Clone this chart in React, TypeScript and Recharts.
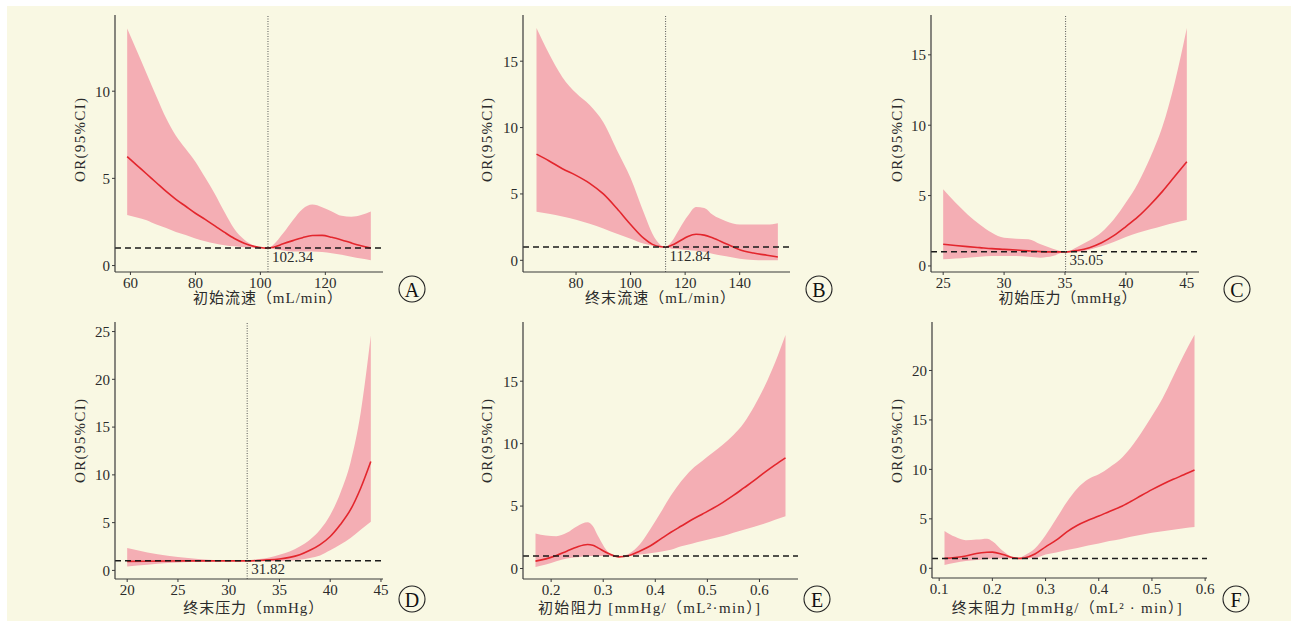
import React from 'react';
import { ComposedChart, Area, Line, XAxis, YAxis, ReferenceLine, ReferenceDot } from 'recharts';

// ---------- Panel A: 初始流速 ----------
const aX = [59, 62, 65, 68, 71, 74, 77, 80, 83, 86, 89, 92, 95, 98, 101, 102.34, 104, 107, 110, 113, 116, 119, 122, 125, 128, 131, 134];
const aHigh = [13.6, 12.3, 11.0, 9.7, 8.45, 7.45, 6.7, 5.95, 5.05, 4.1, 3.05, 2.1, 1.5, 1.15, 1.02, 1.0, 1.2, 1.85, 2.6, 3.25, 3.5, 3.35, 3.1, 2.85, 2.8, 2.9, 3.1];
const aLow = [2.9, 2.75, 2.6, 2.35, 2.15, 1.92, 1.75, 1.55, 1.4, 1.27, 1.17, 1.1, 1.05, 1.02, 1.0, 1.0, 0.95, 0.86, 0.8, 0.8, 0.8, 0.77, 0.7, 0.62, 0.5, 0.4, 0.3];
const aOR = [6.25, 5.75, 5.25, 4.75, 4.25, 3.8, 3.4, 3.0, 2.65, 2.28, 1.9, 1.55, 1.28, 1.1, 1.01, 1.0, 1.05, 1.25, 1.43, 1.6, 1.72, 1.73, 1.62, 1.47, 1.3, 1.14, 1.0];
const aXTicks = [60, 80, 100, 120];
const aYTicks = [0, 5, 10];

// ---------- Panel B: 终末流速 ----------
const bX = [65.5, 70, 75, 80, 85, 90, 95, 100, 105, 108, 111, 112.84, 115, 118, 121, 124, 127, 130, 135, 140, 145, 150, 154];
const bHigh = [17.5, 15.6, 13.8, 12.6, 11.7, 10.4, 8.3, 6.2, 3.5, 2.0, 1.15, 1.0, 1.4, 2.4, 3.35, 4.02, 3.95, 3.45, 2.95, 2.7, 2.7, 2.7, 2.8];
const bLow = [3.65, 3.5, 3.3, 3.05, 2.75, 2.4, 2.0, 1.63, 1.25, 1.1, 1.0, 1.0, 0.88, 0.84, 0.78, 0.72, 0.64, 0.5, 0.3, 0.12, 0.02, 0.0, 0.0];
const bOR = [8.0, 7.5, 6.9, 6.4, 5.8, 5.0, 3.9, 2.7, 1.63, 1.2, 1.02, 1.0, 1.13, 1.45, 1.8, 1.96, 1.9, 1.7, 1.25, 0.8, 0.55, 0.38, 0.25];
const bXTicks = [80, 100, 120, 140];
const bYTicks = [0, 5, 10, 15];

// ---------- Panel C: 初始压力 ----------
const cX = [25, 26, 27, 28, 29, 30, 31, 32, 33, 34, 35.05, 36, 37, 38, 39, 40, 41, 42, 43, 44, 45];
const cHigh = [5.45, 4.5, 3.66, 2.95, 2.36, 2.0, 1.94, 1.9, 1.54, 1.23, 1.0, 1.35, 1.8, 2.4, 3.3, 4.5, 5.9, 7.7, 9.9, 13.0, 16.9];
const cLow = [0.47, 0.53, 0.59, 0.65, 0.7, 0.7, 0.7, 0.65, 0.59, 0.7, 1.0, 0.98, 1.15, 1.4, 1.7, 2.05, 2.36, 2.6, 2.84, 3.07, 3.26];
const cOR = [1.54, 1.45, 1.37, 1.3, 1.23, 1.18, 1.13, 1.07, 1.02, 1.0, 1.0, 1.1, 1.3, 1.65, 2.15, 2.8, 3.5, 4.35, 5.3, 6.35, 7.4];
const cXTicks = [25, 30, 35, 40, 45];
const cYTicks = [0, 5, 10, 15];

// ---------- Panel D: 终末压力 ----------
const dX = [20, 22, 24, 26, 28, 30, 31.82, 33, 34, 35, 36, 37, 38, 39, 40, 41, 42, 43, 44];
const dHigh = [2.34, 1.88, 1.53, 1.29, 1.12, 1.05, 1.0, 1.19, 1.36, 1.64, 1.99, 2.5, 3.2, 4.25, 5.8, 8.1, 11.3, 16.5, 24.6];
const dLow = [0.42, 0.6, 0.77, 0.87, 0.94, 1.0, 1.0, 0.97, 0.95, 0.97, 1.02, 1.12, 1.3, 1.57, 2.1, 2.7, 3.4, 4.25, 5.1];
const dOR = [0.94, 0.96, 0.98, 1.0, 1.0, 1.0, 1.0, 1.04, 1.1, 1.2, 1.36, 1.64, 2.1, 2.7, 3.55, 4.8, 6.35, 8.6, 11.4];
const dXTicks = [20, 25, 30, 35, 40, 45];
const dYTicks = [0, 5, 10, 15, 20, 25];

// ---------- Panel E: 初始阻力 ----------
const eX = [0.17, 0.19, 0.21, 0.23, 0.25, 0.27, 0.28, 0.29, 0.31, 0.33, 0.35, 0.37, 0.39, 0.41, 0.43, 0.45, 0.47, 0.49, 0.51, 0.53, 0.55, 0.57, 0.59, 0.61, 0.63, 0.65];
const eHigh = [2.8, 2.64, 2.59, 2.86, 3.39, 3.7, 3.4, 2.6, 1.3, 0.95, 1.2, 1.92, 3.12, 4.46, 5.84, 7.0, 7.93, 8.6, 9.26, 9.93, 10.7, 11.66, 13.0, 14.6, 16.5, 18.7];
const eLow = [0.13, 0.32, 0.59, 0.8, 0.9, 1.0, 1.0, 1.0, 1.0, 0.9, 1.0, 1.12, 1.22, 1.35, 1.5, 1.79, 1.99, 2.2, 2.4, 2.6, 2.86, 3.1, 3.35, 3.6, 3.9, 4.19];
const eOR = [0.59, 0.77, 1.04, 1.39, 1.73, 1.92, 1.87, 1.65, 1.2, 0.93, 1.04, 1.39, 1.8, 2.35, 2.9, 3.4, 3.9, 4.35, 4.8, 5.3, 5.85, 6.45, 7.05, 7.7, 8.3, 8.86];
const eXTicks = [0.2, 0.3, 0.4, 0.5, 0.6];
const eYTicks = [0, 5, 10, 15];

// ---------- Panel F: 终末阻力 ----------
const fX = [0.11, 0.13, 0.15, 0.17, 0.19, 0.2, 0.22, 0.24, 0.25, 0.26, 0.28, 0.3, 0.32, 0.34, 0.36, 0.38, 0.4, 0.42, 0.44, 0.46, 0.48, 0.5, 0.52, 0.54, 0.56, 0.58];
const fHigh = [3.78, 3.18, 2.84, 2.9, 3.0, 2.74, 1.74, 1.1, 1.05, 1.3, 2.0, 3.34, 5.0, 6.7, 8.1, 9.0, 9.5, 10.2, 11.0, 12.2, 13.7, 15.4, 17.2, 19.4, 21.6, 23.6];
const fLow = [0.33, 0.55, 0.74, 0.85, 0.95, 1.0, 1.0, 1.0, 0.98, 1.0, 1.05, 1.4, 1.6, 1.85, 2.05, 2.3, 2.5, 2.75, 2.95, 3.2, 3.4, 3.6, 3.75, 3.9, 4.05, 4.18];
const fOR = [1.0, 1.1, 1.25, 1.5, 1.62, 1.64, 1.4, 1.07, 1.0, 1.05, 1.45, 2.17, 2.84, 3.68, 4.35, 4.85, 5.28, 5.75, 6.19, 6.75, 7.36, 7.95, 8.5, 9.0, 9.45, 9.93];
const fXTicks = [0.1, 0.2, 0.3, 0.4, 0.5, 0.6];
const fYTicks = [0, 5, 10, 15, 20];

const SERIF = '"Liberation Serif", "Times New Roman", "Noto Sans CJK SC", serif';
const AXIS = '#3a3a3a';
const BAND = '#f4aeb4';
const RED = '#e3262d';
const BG = '#f9f8e3';

type PanelCfg = {
  x: number[]; low: number[]; high: number[]; or: number[];
  xDomain: [number, number]; yDomain: [number, number];
  xTicks: number[]; yTicks: number[];
  threshold?: string;
  box: { l: number; r: number; t: number; b: number };
  xTitle: string; xTitleX: number; xTitleW: number;
  yTitleX: number; titleRowY: number; yTitleY: number;
  letter: string; letterX: number; letterY: number;
};

const panels: PanelCfg[] = [
  { x: aX, low: aLow, high: aHigh, or: aOR, xDomain: [55.25, 137.75], yDomain: [-0.37, 14.37], xTicks: aXTicks, yTicks: aYTicks,
    threshold: '102.34', box: { l: 115, r: 383, t: 15, b: 272 },
    xTitle: '初始流速（mL/min）', xTitleX: 267.5, xTitleW: 149, yTitleX: 80, titleRowY: 298, yTitleY: 140, letter: 'A', letterX: 412, letterY: 289 },
  { x: bX, low: bLow, high: bHigh, or: bOR, xDomain: [60.55, 158.45], yDomain: [-0.88, 18.48], xTicks: bXTicks, yTicks: bYTicks,
    threshold: '112.84', box: { l: 523, r: 790, t: 15, b: 272 },
    xTitle: '终末流速（mL/min）', xTitleX: 660, xTitleW: 150, yTitleX: 487, titleRowY: 298, yTitleY: 140, letter: 'B', letterX: 819, letterY: 289 },
  { x: cX, low: cLow, high: cHigh, or: cOR, xDomain: [24, 46], yDomain: [-0.43, 17.83], xTicks: cXTicks, yTicks: cYTicks,
    threshold: '35.05', box: { l: 931, r: 1199, t: 15, b: 272 },
    xTitle: '初始压力（mmHg）', xTitleX: 1067.5, xTitleW: 138, yTitleX: 897, titleRowY: 298, yTitleY: 140, letter: 'C', letterX: 1237, letterY: 289 },
  { x: dX, low: dLow, high: dHigh, or: dOR, xDomain: [18.8, 45.2], yDomain: [-0.9, 26], xTicks: dXTicks, yTicks: dYTicks,
    threshold: '31.82', box: { l: 115, r: 383, t: 322, b: 579 },
    xTitle: '终末压力（mmHg）', xTitleX: 253.3, xTitleW: 140, yTitleX: 80, titleRowY: 608, yTitleY: 441, letter: 'D', letterX: 412, letterY: 599 },
  { x: eX, low: eLow, high: eHigh, or: eOR, xDomain: [0.146, 0.674], yDomain: [-0.84, 19.74], xTicks: eXTicks, yTicks: eYTicks,
    box: { l: 523, r: 798, t: 322, b: 579 },
    xTitle: '初始阻力 [mmHg/（mL²·min）]', xTitleX: 649, xTitleW: 222, yTitleX: 487, titleRowY: 608, yTitleY: 441, letter: 'E', letterX: 817, letterY: 599 },
  { x: fX, low: fLow, high: fHigh, or: fOR, xDomain: [0.0865, 0.6035], yDomain: [-0.98, 24.9], xTicks: fXTicks, yTicks: fYTicks,
    box: { l: 932, r: 1207, t: 322, b: 578 },
    xTitle: '终末阻力 [mmHg/（mL² · min）]', xTitleX: 1066.7, xTitleW: 230, yTitleX: 897, titleRowY: 608, yTitleY: 441, letter: 'F', letterX: 1236, letterY: 599 },
];

const YW = 40;
const XH = 30;
const MT = 5;
const MR = 20;

function Panel({ p }: { p: PanelCfg }) {
  const w = p.box.r - p.box.l + YW + MR;
  const h = p.box.b - p.box.t + MT + XH;
  const data = p.x.map((v, i) => ({ x: v, band: [p.low[i], p.high[i]], or: p.or[i] }));
  const thr = p.threshold != null ? parseFloat(p.threshold) : null;
  const tick = { fill: '#2b2b2b', fontSize: 15, fontFamily: SERIF };
  return (
    <div style={{ position: 'absolute', left: p.box.l - YW, top: p.box.t - MT, width: w, height: h }}>
      <ComposedChart width={w} height={h} data={data} margin={{ top: MT, right: MR, left: 0, bottom: 0 }}>
        <XAxis type="number" dataKey="x" domain={p.xDomain} ticks={p.xTicks} allowDataOverflow interval={0}
          height={XH} axisLine={{ stroke: AXIS, strokeWidth: 1.2 }} tickLine={{ stroke: AXIS }} tickSize={3} tickMargin={2} tick={tick} />
        <YAxis type="number" domain={p.yDomain} ticks={p.yTicks} allowDataOverflow interval={0}
          width={YW} axisLine={{ stroke: AXIS, strokeWidth: 1.2 }} tickLine={{ stroke: AXIS }} tickSize={3} tickMargin={2} tick={tick} />
        <Area dataKey="band" type="monotone" fill={BAND} fillOpacity={1} stroke="none" isAnimationActive={false} />
        <Line dataKey="or" type="monotone" stroke={RED} strokeWidth={1.6} dot={false} isAnimationActive={false} />
        <ReferenceLine y={1} stroke="#1a1a1a" strokeWidth={1.5} strokeDasharray="6 4" />
        {thr != null && <ReferenceLine x={thr} stroke="#555" strokeWidth={1} strokeDasharray="1 1.5" />}
        {thr != null && (
          <ReferenceDot x={thr} y={1} r={0} fill="none" stroke="none"
            label={(lp: any) => {
              const vb = lp.viewBox || {};
              return (
                <text x={(vb.x ?? 0) + 4} y={(vb.y ?? 0) + 13.5} fill="#2b2b2b" fontSize={15} fontFamily={SERIF}>
                  {p.threshold}
                </text>
              );
            }} />
        )}
      </ComposedChart>
    </div>
  );
}

export default function App() {
  return (
    <div style={{ position: 'absolute', left: 0, top: 0, width: 1296, height: 626, background: '#ffffff', overflow: 'hidden' }}>
      <div style={{ position: 'absolute', left: 7, top: 6, width: 1284, height: 615, background: BG }} />
      {panels.map((p) => (
        <Panel key={p.letter} p={p} />
      ))}
      <svg width={1296} height={626} style={{ position: 'absolute', left: 0, top: 0, pointerEvents: 'none' }}>
        {panels.map((p) => (
          <g key={p.letter}>
            <text transform={`translate(${p.yTitleX},${p.yTitleY}) rotate(-90)`} textAnchor="middle" dominantBaseline="central"
              fill="#2b2b2b" fontSize={15} fontFamily={SERIF} textLength={84} lengthAdjust="spacing">OR(95%CI)</text>
            <text x={p.xTitleX} y={p.titleRowY} textAnchor="middle" dominantBaseline="central"
              fill="#2b2b2b" fontSize={15} fontFamily={SERIF} textLength={p.xTitleW} lengthAdjust="spacing">{p.xTitle}</text>
            <circle cx={p.letterX} cy={p.letterY} r={13} fill="none" stroke="#222" strokeWidth={1.1} />
            <text x={p.letterX} y={p.letterY + 1} textAnchor="middle" dominantBaseline="central" fill="#111" fontSize={20} fontFamily={SERIF}>{p.letter}</text>
          </g>
        ))}
      </svg>
    </div>
  );
}
